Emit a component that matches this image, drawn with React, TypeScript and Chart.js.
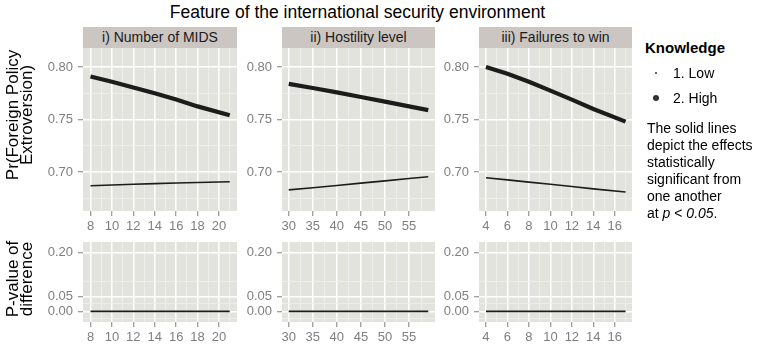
import React, { useEffect, useRef } from "react";
import { Chart, registerables } from "chart.js";
Chart.register(...registerables);

const FONT = "'Liberation Sans', Arial, Helvetica, sans-serif";

// ---------- data ----------
const mainTitle = "Feature of the international security environment";
const facetTitles = ["i) Number of MIDS", "ii) Hostility level", "iii) Failures to win"];

const midsX = [8, 10, 12, 14, 16, 18, 21];
const midsHigh = [0.791, 0.786, 0.7805, 0.775, 0.769, 0.7625, 0.754];
const midsLow = [0.687, 0.6877, 0.6884, 0.689, 0.6896, 0.6901, 0.6908];
const midsP = [0, 0, 0, 0, 0, 0, 0];

const hostX = [30, 35, 40, 45, 50, 55, 59];
const hostHigh = [0.784, 0.78, 0.7758, 0.7715, 0.767, 0.7625, 0.759];
const hostLow = [0.683, 0.685, 0.6872, 0.6894, 0.6916, 0.6938, 0.6955];
const hostP = [0, 0, 0, 0, 0, 0, 0];

const failX = [4, 6, 8, 10, 12, 14, 17];
const failHigh = [0.8, 0.7935, 0.786, 0.7775, 0.769, 0.76, 0.748];
const failLow = [0.6946, 0.6925, 0.6904, 0.6883, 0.6862, 0.684, 0.681];
const failP = [0, 0, 0, 0, 0, 0, 0];

const midsTicks = [8, 10, 12, 14, 16, 18, 20];
const midsMinor = [9, 11, 13, 15, 17, 19, 21];
const hostTicks = [30, 35, 40, 45, 50, 55];
const hostMinor = [32.5, 37.5, 42.5, 47.5, 52.5, 57.5];
const failTicks = [4, 6, 8, 10, 12, 14, 16];
const failMinor = [5, 7, 9, 11, 13, 15, 17];

const probTicks = [0.7, 0.75, 0.8];
const probMinor = [0.675, 0.725, 0.775];
const pvalTicks = [0, 0.05, 0.2];
const pvalMinor = [-0.025, 0.025, 0.1];

const yTitleTop = ["Pr(Foreign Policy", "Extroversion)"];
const yTitleBottom = ["P-value of", "difference"];
const legendTitle = "Knowledge";
const legendLabels = ["1. Low", "2. High"];
const noteLines = ["The solid lines", "depict the effects", "statistically", "significant from", "one another"];

// ---------- layout ----------
const PANEL_BG = "#e3e3de";
const STRIP_BG = "#cbc6c2";
const LINE = "#1c1c1c";

const cols = [
  { L: 83, R: 237, xMin: 7.3, xMax: 21.68, major: midsTicks, minor: midsMinor, x: midsX, high: midsHigh, low: midsLow, p: midsP },
  { L: 282, R: 435, xMin: 28.6, xMax: 60.4, major: hostTicks, minor: hostMinor, x: hostX, high: hostHigh, low: hostLow, p: hostP },
  { L: 479, R: 632, xMin: 3.35, xMax: 17.6, major: failTicks, minor: failMinor, x: failX, high: failHigh, low: failLow, p: failP },
];
const rows = [
  { T: 48, B: 211, yMin: 0.6629, yMax: 0.8181, major: probTicks, minor: probMinor },
  { T: 242, B: 322, yMin: -0.0363, yMax: 0.2349, major: pvalTicks, minor: pvalMinor },
];

const PADL = 50, PADT = 16, PADR = 4, PADB = 24;

const bgPlugin = {
  id: "panelBg",
  beforeDraw(chart: any) {
    const a = chart.chartArea;
    const c = chart.ctx;
    c.save();
    c.fillStyle = PANEL_BG;
    c.fillRect(a.left, a.top, a.right - a.left, a.bottom - a.top);
    c.restore();
  },
};

const has = (list: number[], v: number) => list.some((m) => Math.abs(m - v) < 1e-9);

type Series = { xs: number[]; ys: number[]; w: number };

function Panel(props: {
  L: number; R: number; T: number; B: number;
  xMin: number; xMax: number; yMin: number; yMax: number;
  xMajor: number[]; xMinor: number[]; yMajor: number[]; yMinor: number[];
  series: Series[];
}) {
  const ref = useRef<HTMLCanvasElement>(null);
  const w = props.R - props.L + PADL + PADR;
  const h = props.B - props.T + PADT + PADB;
  useEffect(() => {
    if (!ref.current) return;
    const xAll = [...props.xMajor, ...props.xMinor].sort((a, b) => a - b);
    const yAll = [...props.yMajor, ...props.yMinor].sort((a, b) => a - b);
    const gridColor = (list: number[]) => (ctx: any) =>
      ctx.tick && has(list, ctx.tick.value) ? "#ffffff" : "#f0f0ec";
    const gridWidth = (list: number[]) => (ctx: any) =>
      ctx.tick && has(list, ctx.tick.value) ? 1.5 : 0.8;
    const tickColor = (list: number[]) => (ctx: any) =>
      ctx.tick && has(list, ctx.tick.value) ? "#7f7f7f" : "rgba(0,0,0,0)";
    const chart = new Chart(ref.current, {
      type: "line",
      data: {
        datasets: props.series.map((s) => ({
          data: s.xs.map((x, i) => ({ x, y: s.ys[i] })),
          borderColor: LINE,
          borderWidth: s.w,
          pointRadius: 0,
          tension: 0,
          fill: false,
        })),
      },
      options: {
        responsive: false,
        animation: false,
        events: [],
        layout: { padding: { top: PADT, right: PADR, left: 0, bottom: 0 } },
        plugins: { legend: { display: false }, tooltip: { enabled: false } },
        scales: {
          x: {
            type: "linear",
            bounds: "data",
            min: props.xMin,
            max: props.xMax,
            afterFit: (s: any) => { s.height = PADB; },
            afterBuildTicks: (s: any) => { s.ticks = xAll.map((v) => ({ value: v })); },
            ticks: {
              autoSkip: false,
              maxRotation: 0,
              padding: 3,
              color: "#7f7f7f",
              font: { family: FONT, size: 13 },
              callback: (v: any) => (has(props.xMajor, Number(v)) ? String(v) : ""),
            },
            grid: {
              color: gridColor(props.xMajor),
              lineWidth: gridWidth(props.xMajor),
              tickColor: tickColor(props.xMajor),
              tickLength: 5,
              tickWidth: 1,
              drawTicks: true,
            },
            border: { display: false },
          },
          y: {
            type: "linear",
            bounds: "data",
            min: props.yMin,
            max: props.yMax,
            afterFit: (s: any) => { s.width = PADL; },
            afterBuildTicks: (s: any) => { s.ticks = yAll.map((v) => ({ value: v })); },
            ticks: {
              autoSkip: false,
              padding: 5,
              color: "#7f7f7f",
              font: { family: FONT, size: 13 },
              callback: (v: any) => (has(props.yMajor, Number(v)) ? Number(v).toFixed(2) : ""),
            },
            grid: {
              color: gridColor(props.yMajor),
              lineWidth: gridWidth(props.yMajor),
              tickColor: tickColor(props.yMajor),
              tickLength: 5,
              tickWidth: 1,
              drawTicks: true,
            },
            border: { display: false },
          },
        },
      },
      plugins: [bgPlugin],
    } as any);
    return () => chart.destroy();
  }, []);
  return (
    <canvas
      ref={ref}
      width={w}
      height={h}
      style={{ position: "absolute", left: props.L - PADL, top: props.T - PADT, width: w, height: h }}
    />
  );
}

function RotTitle(props: { lines: string[]; cx: number; cy: number }) {
  return (
    <div
      style={{
        position: "absolute",
        left: props.cx,
        top: props.cy,
        width: 200,
        transform: "translate(-50%, -50%) rotate(-90deg)",
        textAlign: "center",
        fontSize: 17,
        lineHeight: "14px",
        color: "#000",
        whiteSpace: "nowrap",
      }}
    >
      {props.lines.map((l, i) => (
        <div key={i}>{l}</div>
      ))}
    </div>
  );
}

export default function App() {
  return (
    <div
      style={{
        position: "fixed",
        left: 0,
        top: 0,
        width: 762,
        height: 346,
        background: "#ffffff",
        fontFamily: FONT,
        overflow: "hidden",
      }}
    >
      <div
        style={{
          position: "absolute",
          left: 0,
          width: 715,
          top: 2,
          textAlign: "center",
          fontSize: 17.5,
          lineHeight: "20px",
          color: "#000",
        }}
      >
        {mainTitle}
      </div>

      {cols.map((c, i) => (
        <div
          key={"s" + i}
          style={{
            position: "absolute",
            left: c.L,
            top: 27,
            width: c.R - c.L,
            height: 21,
            background: STRIP_BG,
            textAlign: "center",
            fontSize: 14,
            lineHeight: "21px",
            color: "#1a1a1a",
            whiteSpace: "nowrap",
          }}
        >
          {facetTitles[i]}
        </div>
      ))}

      {rows.map((r, ri) =>
        cols.map((c, ci) => (
          <Panel
            key={ri + "-" + ci}
            L={c.L}
            R={c.R}
            T={r.T}
            B={r.B}
            xMin={c.xMin}
            xMax={c.xMax}
            yMin={r.yMin}
            yMax={r.yMax}
            xMajor={c.major}
            xMinor={c.minor}
            yMajor={r.major}
            yMinor={r.minor}
            series={
              ri === 0
                ? [
                    { xs: c.x, ys: c.low, w: 1.6 },
                    { xs: c.x, ys: c.high, w: 4.2 },
                  ]
                : [{ xs: c.x, ys: c.p, w: 1.8 }]
            }
          />
        ))
      )}

      <RotTitle lines={yTitleTop} cx={20} cy={115} />
      <RotTitle lines={yTitleBottom} cx={20} cy={279} />

      <div style={{ position: "absolute", left: 645, top: 38.7, fontSize: 15, fontWeight: "bold", lineHeight: "17px", color: "#000" }}>
        {legendTitle}
      </div>
      {legendLabels.map((l, i) => (
        <React.Fragment key={"l" + i}>
          <div
            style={{
              position: "absolute",
              left: 656 - (i === 0 ? 1.3 : 3.2),
              top: (i === 0 ? 73 : 98) - (i === 0 ? 1.3 : 3.2),
              width: i === 0 ? 2.6 : 6.4,
              height: i === 0 ? 2.6 : 6.4,
              borderRadius: "50%",
              background: "#333",
            }}
          />
          <div style={{ position: "absolute", left: 673, top: (i === 0 ? 73 : 98) - 8.3, fontSize: 14, lineHeight: "17px", color: "#000", whiteSpace: "nowrap" }}>
            {l}
          </div>
        </React.Fragment>
      ))}
      <div style={{ position: "absolute", left: 647, top: 119.7, fontSize: 14, lineHeight: "17px", color: "#000", whiteSpace: "nowrap" }}>
        {noteLines.map((l, i) => (
          <div key={i}>{l}</div>
        ))}
        <div>
          at <i>p</i> &lt; <i>0.05</i>.
        </div>
      </div>
    </div>
  );
}
